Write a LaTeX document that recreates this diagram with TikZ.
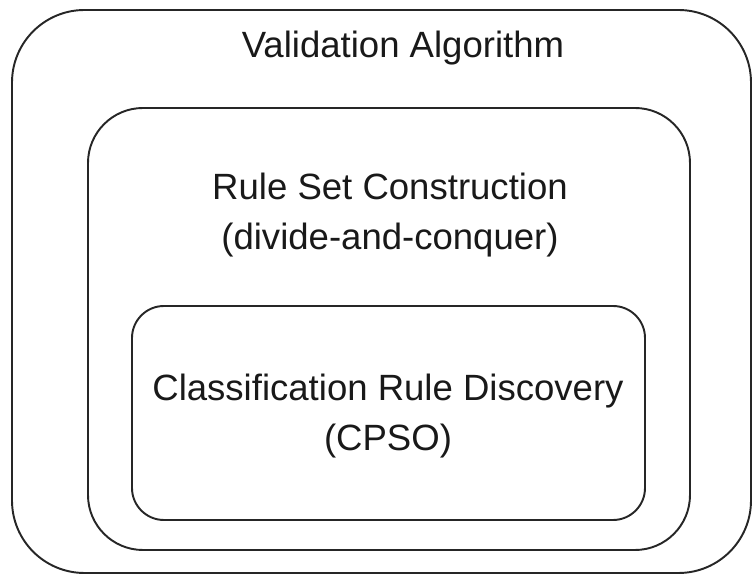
\documentclass[tikz,border=0pt]{standalone}
\usepackage{fontspec}
\setmainfont{Liberation Sans}
\begin{document}
\begin{tikzpicture}[
  frame/.style={rectangle, draw=black!85, line width=1.1pt, fill=none},
  caption/.style={align=center, text=black!90, font=\fontsize{20.8}{28.45}\selectfont}
]
\useasboundingbox (0,0) rectangle (15.06,-11.5);

% nested frames
\node[frame, rounded corners=1.45cm, minimum width=14.78cm, minimum height=11.26cm] (valid) at (7.63,-5.83) {};
\node[frame, rounded corners=1.1cm, minimum width=12.04cm, minimum height=8.84cm] (ruleset) at (7.78,-6.58) {};
\node[frame, rounded corners=0.64cm, minimum width=10.26cm, minimum height=4.28cm] (discovery) at (7.77,-8.26) {};

% labels
\node[caption, anchor=base] (validtxt) at (8.06,-1.16) {Validation Algorithm};
\node[caption] (rulesettxt) at (7.8,-4.3) {Rule Set Construction\\(divide-and-conquer)};
\node[caption] (discoverytxt) at (7.76,-8.32) {Classification Rule Discovery\\(CPSO)};
\end{tikzpicture}
\end{document}
